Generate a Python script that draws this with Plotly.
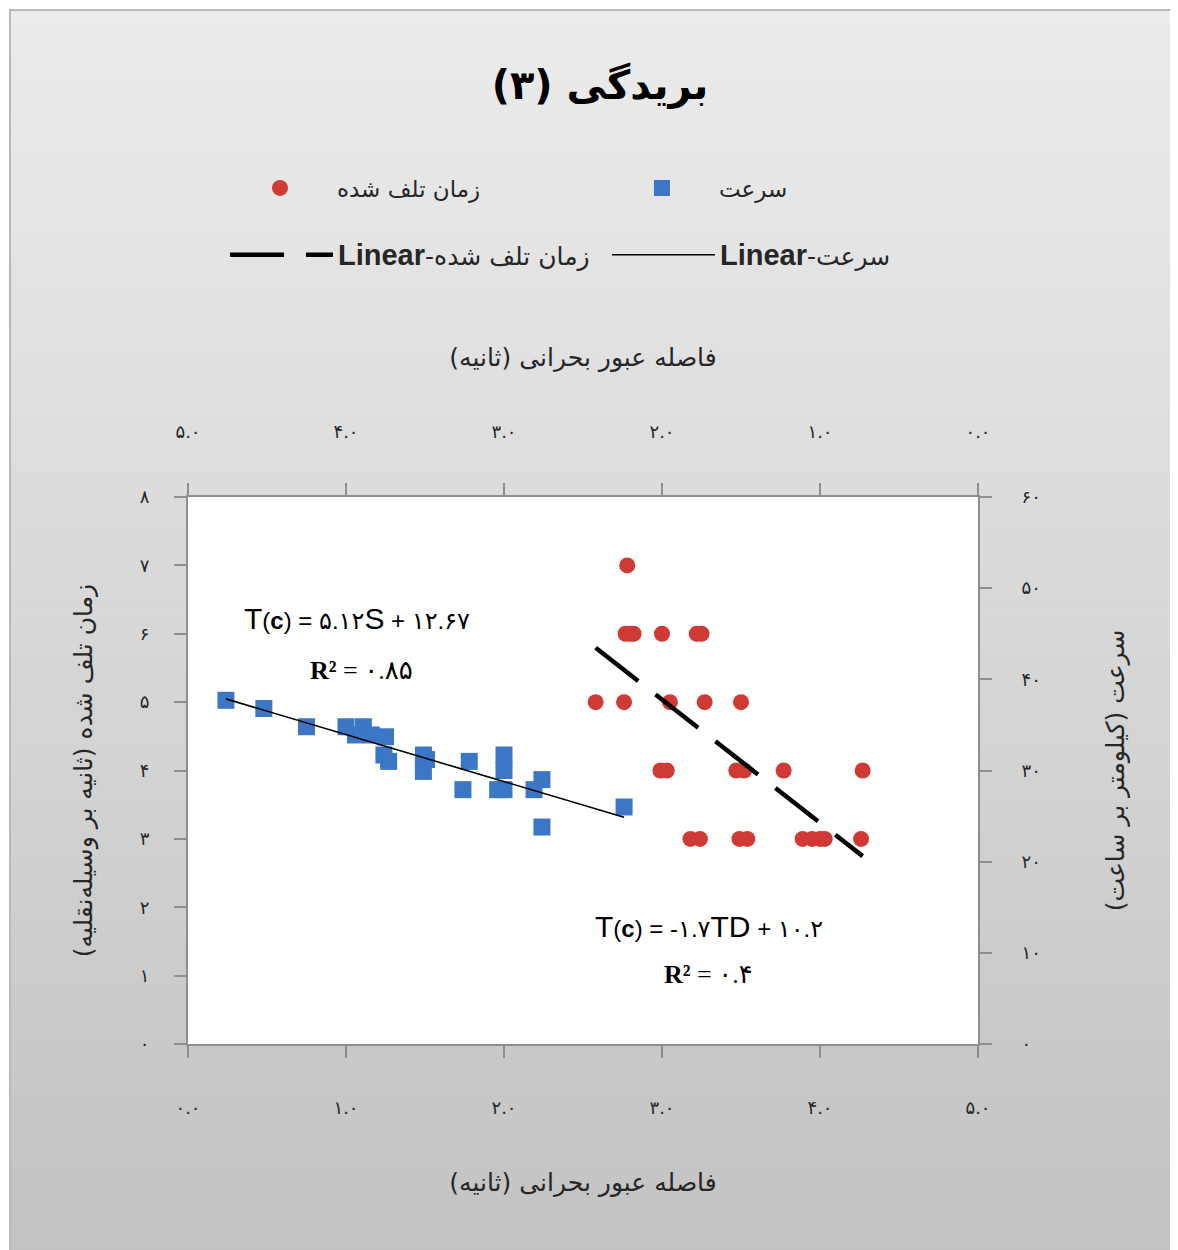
import numpy as np
import plotly.graph_objects as go

# ---------------- data ----------------
# time lost (sec/veh) vs critical gap (sec) -> primary axes (bottom x, left y)
lost_gap = [2.78, 2.77, 2.80, 2.82, 3.00, 3.22, 3.25,
            2.58, 2.76, 3.05, 3.27, 3.50,
            2.99, 3.03, 3.47, 3.52, 3.77, 4.27,
            3.18, 3.24, 3.49, 3.54, 3.89, 3.95, 4.00, 4.03, 4.26]
lost_time = [7, 6, 6, 6, 6, 6, 6,
             5, 5, 5, 5, 5,
             4, 4, 4, 4, 4, 4,
             3, 3, 3, 3, 3, 3, 3, 3, 3]

# speed (km/h) vs critical gap (sec) -> secondary axes (top reversed x, right y)
speed_gap = [4.76, 4.52, 4.25, 4.00, 3.89, 3.94, 3.84, 3.75, 3.76, 3.73, 3.51, 3.49,
             3.51, 3.22, 3.26, 3.00, 3.00, 3.04, 3.00, 2.76, 2.81, 2.76, 2.24]
speed = [37.7, 36.8, 34.8, 34.8, 34.8, 33.9, 33.9, 33.7, 31.7, 31.0, 31.7, 31.2,
         29.9, 31.0, 27.9, 31.7, 30.0, 27.9, 27.9, 29.0, 27.9, 23.8, 26.0]

x_ticks = [0, 1, 2, 3, 4, 5]
x_ticktext = ["۰.۰", "۱.۰", "۲.۰", "۳.۰", "۴.۰", "۵.۰"]
yl_ticks = [0, 1, 2, 3, 4, 5, 6, 7, 8]
yl_ticktext = ["۰", "۱", "۲", "۳", "۴", "۵", "۶", "۷", "۸"]
yr_ticks = [0, 10, 20, 30, 40, 50, 60]
yr_ticktext = ["۰", "۱۰", "۲۰", "۳۰", "۴۰", "۵۰", "۶۰"]

title_text = "بریدگی (۳)"
x_title = "فاصله عبور بحرانی (ثانیه)"
yl_title = "زمان تلف شده (ثانیه بر وسیله\u200cنقلیه)"
yr_title = "سرعت (کیلومتر بر ساعت)"
name_lost = "زمان تلف شده"
name_speed = "سرعت"
eq_speed = ("<span style='font-size:30px'>T</span>(<b>c</b>) = ۵.۱۲"
            "<span style='font-size:30px'>S</span> + ۱۲.۶۷")
r2_speed = "<b>R²</b> = ۰.۸۵"
eq_lost = ("<span style='font-size:30px'>T</span>(<b>c</b>) = -۱.۷"
           "<span style='font-size:30px'>TD</span> + ۱۰.۲")
r2_lost = "<b>R²</b> = ۰.۴"

RLM = "\u200F"   # right-to-left mark: keeps the closing parenthesis in the RTL run

# ---------------- layout geometry (page pixels; page body has an 8px margin) ----------------
OFF = 8
W, H = 1178 - OFF, 1250 - OFF
ML, MT = 188 - OFF, 497 - OFF
MR, MB = W - (978 - OFF), H - (1044 - OFF)
PW, PH = W - ML - MR, H - MT - MB


def px_x(p):
    return (p - OFF - ML) / PW


def px_y(p):
    return (H - MB - (p - OFF)) / PH


FA = "DejaVu Sans"
LAT = "Liberation Sans, DejaVu Sans"
BLUE = "#3B77C5"
RED = "#CF3A35"
AX = "#8E8E8E"
TXT = "#262626"

# ---------------- trendlines (least squares) ----------------
lg = np.array(lost_gap, float)
lt = np.array(lost_time, float)
m1, b1 = np.polyfit(lg, lt, 1)
lost_fx = np.array([lg.min(), lg.max()])
lost_fy = m1 * lost_fx + b1

sg = np.array(speed_gap, float)
sp = np.array(speed, float)
m2, b2 = np.polyfit(sg, sp, 1)
speed_fx = np.array([sg.min(), sg.max()])
speed_fy = m2 * speed_fx + b2

fig = go.Figure()
fig.add_trace(go.Scatter(
    x=lost_gap, y=lost_time, mode="markers", name=name_lost, legend="legend",
    marker=dict(symbol="circle", size=16, color=RED, line=dict(width=0)),
    xaxis="x", yaxis="y"))
fig.add_trace(go.Scatter(
    x=speed_gap, y=speed, mode="markers", name=name_speed, legend="legend",
    marker=dict(symbol="square", size=17, color=BLUE, line=dict(width=0)),
    xaxis="x2", yaxis="y2"))
fig.add_trace(go.Scatter(
    x=lost_fx, y=lost_fy, mode="lines", legend="legend2",
    name="<span style='font-family:Liberation Sans;font-size:29px'><b>Linear</b></span>-" + name_lost,
    line=dict(color="black", width=4.5, dash="54px,22px"),
    xaxis="x", yaxis="y"))
fig.add_trace(go.Scatter(
    x=speed_fx, y=speed_fy, mode="lines", legend="legend2",
    name="<span style='font-family:Liberation Sans;font-size:29px'><b>Linear</b></span>-" + name_speed,
    line=dict(color="black", width=1.6),
    xaxis="x2", yaxis="y2"))

# ---------------- background (gradient chart area + white plot area) ----------------
shapes = []
top_px, bot_px = 10, 1262
nb = 90
for i in range(nb):
    y0 = top_px + (bot_px - top_px) * i / nb
    y1 = top_px + (bot_px - top_px) * (i + 1) / nb + 0.6
    g = round(236 - (236 - 194) * (i + 0.5) / nb)
    shapes.append(dict(type="rect", xref="paper", yref="paper", layer="below",
                       x0=px_x(10), x1=px_x(1200), y0=px_y(y1), y1=px_y(y0),
                       fillcolor=f"rgb({g},{g},{g})", line=dict(width=0)))
shapes.append(dict(type="rect", xref="paper", yref="paper", layer="below",
                   x0=px_x(10), x1=px_x(1205), y0=px_y(1275), y1=px_y(10),
                   fillcolor="rgba(0,0,0,0)", line=dict(color="#B9B9B9", width=2)))
shapes.append(dict(type="rect", xref="paper", yref="paper", layer="below",
                   x0=0, x1=1, y0=0, y1=1, fillcolor="white", line=dict(width=0)))

axis_common = dict(showgrid=False, zeroline=False, showline=True, linecolor=AX, linewidth=2,
                   ticks="outside", ticklen=12, tickwidth=2, tickcolor=AX,
                   tickfont=dict(family=FA, size=18, color=TXT))

fig.update_layout(
    width=W, height=H,
    margin=dict(l=ML, r=MR, t=MT, b=MB, autoexpand=False),
    paper_bgcolor="white", plot_bgcolor="white",
    shapes=shapes,
    title=dict(text=title_text + RLM, x=(600 - OFF) / W, xref="container", xanchor="center",
               y=1 - (85 - OFF) / H, yref="container", yanchor="middle",
               font=dict(family=FA, size=40, color="black", weight="bold")),
    xaxis=dict(range=[0, 5], tickvals=x_ticks, ticktext=x_ticktext, side="bottom",
               ticklabelstandoff=34,
               title=dict(text=x_title + RLM, standoff=57,
                          font=dict(family=FA, size=25, color=TXT)),
               **axis_common),
    xaxis2=dict(range=[5, 0], tickvals=x_ticks, ticktext=x_ticktext, side="top",
                overlaying="x", anchor="y", ticklabelstandoff=38,
                title=dict(text=x_title + RLM, standoff=47,
                           font=dict(family=FA, size=25, color=TXT)),
                **axis_common),
    yaxis=dict(range=[0, 8], tickvals=yl_ticks, ticktext=yl_ticktext, side="left",
               ticklabelstandoff=21,
               title=dict(text=yl_title + RLM, standoff=40,
                          font=dict(family=FA, size=25, color=TXT)),
               **axis_common),
    yaxis2=dict(range=[0, 60], tickvals=yr_ticks, ticktext=yr_ticktext, side="right",
                overlaying="y", anchor="x", ticklabelstandoff=26,
                title=dict(text=yr_title + RLM, standoff=67,
                           font=dict(family=FA, size=25, color=TXT)),
                **axis_common),
    legend=dict(orientation="h", x=px_x(223), xanchor="left", y=px_y(188), yanchor="middle",
                itemwidth=104, entrywidth=263, entrywidthmode="pixels",
                font=dict(family=FA, size=23, color=TXT), bgcolor="rgba(0,0,0,0)",
                borderwidth=0, traceorder="normal"),
    legend2=dict(orientation="h", x=px_x(225), xanchor="left", y=px_y(255), yanchor="middle",
                 itemwidth=103, entrywidth=264, entrywidthmode="pixels",
                 font=dict(family=FA, size=25, color=TXT), bgcolor="rgba(0,0,0,0)",
                 borderwidth=0, traceorder="normal"),
    annotations=[
        dict(text=eq_speed, xref="paper", yref="paper", x=px_x(357), y=px_y(618),
             xanchor="center", yanchor="middle",
             showarrow=False, font=dict(family=LAT, size=24, color="black")),
        dict(text=r2_speed, xref="paper", yref="paper", x=px_x(361), y=px_y(670),
             xanchor="center", yanchor="middle",
             showarrow=False, font=dict(family="Liberation Serif, DejaVu Sans", size=26, color="black")),
        dict(text=eq_lost, xref="paper", yref="paper", x=px_x(709), y=px_y(926),
             xanchor="center", yanchor="middle",
             showarrow=False, font=dict(family=LAT, size=24, color="black")),
        dict(text=r2_lost, xref="paper", yref="paper", x=px_x(708), y=px_y(974),
             xanchor="center", yanchor="middle",
             showarrow=False, font=dict(family="Liberation Serif, DejaVu Sans", size=26, color="black")),
    ],
)

fig.write_html("out.html")
